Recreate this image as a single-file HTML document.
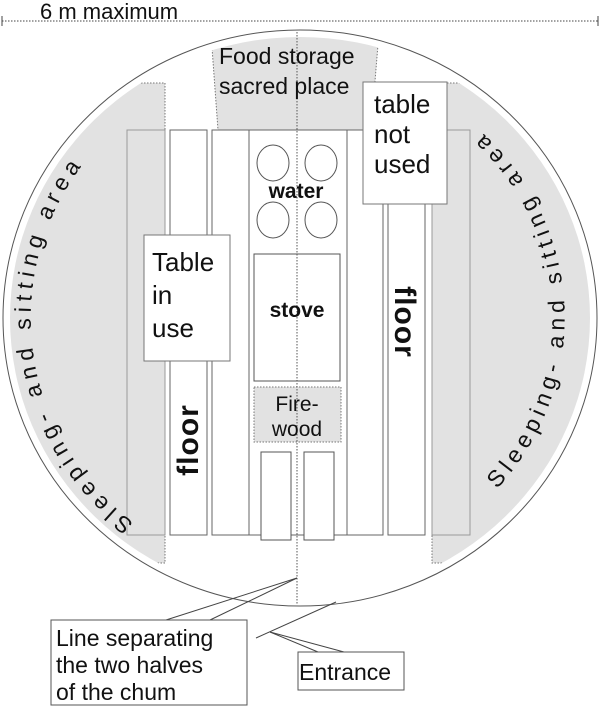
<!DOCTYPE html>
<html><head><meta charset="utf-8"><style>
html,body{margin:0;padding:0;background:#fff}
svg{display:block}
text{font-family:"Liberation Sans",Arial,sans-serif;fill:#111}
</style></head><body>
<svg width="600" height="718" viewBox="0 0 600 718" xmlns="http://www.w3.org/2000/svg">
<defs>
<clipPath id="ell"><ellipse cx="300" cy="318" rx="290" ry="281"/></clipPath>
<path id="lp" d="M 134 523 A 269 260 0 0 1 100 144"/>
<path id="rp" d="M 497 489 A 265 256 0 0 0 470 122"/>
</defs>
<line x1="2" y1="21" x2="598" y2="21" stroke="#444" stroke-width="1" stroke-dasharray="1.5,1.5"/>
<line x1="2" y1="16" x2="2" y2="26" stroke="#444"/>
<line x1="598" y1="16" x2="598" y2="26" stroke="#444"/>
<text x="40" y="19" font-size="22">6 m maximum</text>
<ellipse cx="300" cy="318" rx="297" ry="288" fill="#fff" stroke="#555" stroke-width="1"/>
<g clip-path="url(#ell)">
<rect x="0" y="83" width="165" height="480" fill="#e2e2e2" stroke="#777" stroke-dasharray="1.5,1.5"/>
<rect x="432" y="83" width="170" height="480" fill="#e2e2e2" stroke="#777" stroke-dasharray="1.5,1.5"/>
<polygon points="210,20 380,20 371,130 218,130" fill="#e2e2e2" stroke="#777" stroke-dasharray="1.5,1.5"/>
</g>
<rect x="127" y="130" width="38" height="405" fill="#e2e2e2" stroke="#999"/>
<rect x="170" y="130" width="37" height="405" fill="#fff" stroke="#666"/>
<rect x="212" y="130" width="37" height="405" fill="#fff" stroke="#666"/>
<rect x="249" y="130" width="98" height="405" fill="#fff" stroke="#666"/>
<rect x="347" y="130" width="36" height="405" fill="#fff" stroke="#666"/>
<rect x="388" y="130" width="37" height="405" fill="#fff" stroke="#666"/>
<rect x="432" y="130" width="38" height="405" fill="#e2e2e2" stroke="#999"/>
<ellipse cx="273" cy="163" rx="16" ry="18" fill="#fff" stroke="#555"/>
<ellipse cx="321" cy="163" rx="16" ry="18" fill="#fff" stroke="#555"/>
<ellipse cx="273" cy="220" rx="16" ry="18" fill="#fff" stroke="#555"/>
<ellipse cx="321" cy="220" rx="16" ry="18" fill="#fff" stroke="#555"/>
<rect x="254" y="254" width="86" height="127" fill="#fff" stroke="#555"/>
<rect x="254" y="387" width="87" height="55" fill="#e2e2e2" stroke="#777" stroke-dasharray="1.5,1.5"/>
<rect x="261" y="452" width="30" height="88" fill="#fff" stroke="#555"/>
<rect x="304" y="452" width="30" height="88" fill="#fff" stroke="#555"/>
<line x1="297" y1="32" x2="297" y2="605" stroke="#555" stroke-dasharray="1.5,1.5"/>
<text x="296" y="198" font-size="21" text-anchor="middle" style="font-weight:600">water</text>
<text x="297" y="317" font-size="21" text-anchor="middle" style="font-weight:600">stove</text>
<text x="297" y="411" font-size="21" text-anchor="middle">Fire-</text>
<text x="297" y="436" font-size="21" text-anchor="middle">wood</text>
<text x="219" y="64" font-size="23">Food storage</text>
<text x="219" y="94" font-size="23">sacred place</text>
<rect x="363" y="82" width="84" height="122" fill="#fff" stroke="#777"/>
<text x="374" y="113" font-size="26">table</text>
<text x="374" y="143" font-size="26">not</text>
<text x="374" y="173" font-size="26">used</text>
<rect x="144" y="235" width="86" height="126" fill="#fff" stroke="#777"/>
<text x="152" y="271" font-size="26">Table</text>
<text x="152" y="304" font-size="26">in</text>
<text x="152" y="337" font-size="26">use</text>
<text transform="translate(198,440) rotate(-90)" font-size="30" font-weight="bold" letter-spacing="1" text-anchor="middle">floor</text>
<text transform="translate(395,322) rotate(90)" font-size="30" font-weight="bold" letter-spacing="1" text-anchor="middle">floor</text>
<text font-size="23"><textPath href="#lp" textLength="400" lengthAdjust="spacing">Sleeping- and sitting area</textPath></text>
<text font-size="23"><textPath href="#rp" textLength="395" lengthAdjust="spacing">Sleeping- and sitting area</textPath></text>
<line x1="166" y1="620" x2="297" y2="578" stroke="#444"/>
<line x1="210" y1="620" x2="297" y2="578" stroke="#444"/>
<line x1="256" y1="638" x2="336" y2="602" stroke="#444"/>
<line x1="270" y1="632" x2="318" y2="652" stroke="#444"/>
<line x1="270" y1="632" x2="344" y2="652" stroke="#444"/>
<rect x="51" y="620" width="196" height="85" fill="#fff" stroke="#555"/>
<text x="56" y="646" font-size="23">Line separating</text>
<text x="56" y="673" font-size="23">the two halves</text>
<text x="56" y="700" font-size="23">of the chum</text>
<rect x="298" y="652" width="106" height="38" fill="#fff" stroke="#555"/>
<text x="299" y="680" font-size="23">Entrance</text>
</svg>
</body></html>
